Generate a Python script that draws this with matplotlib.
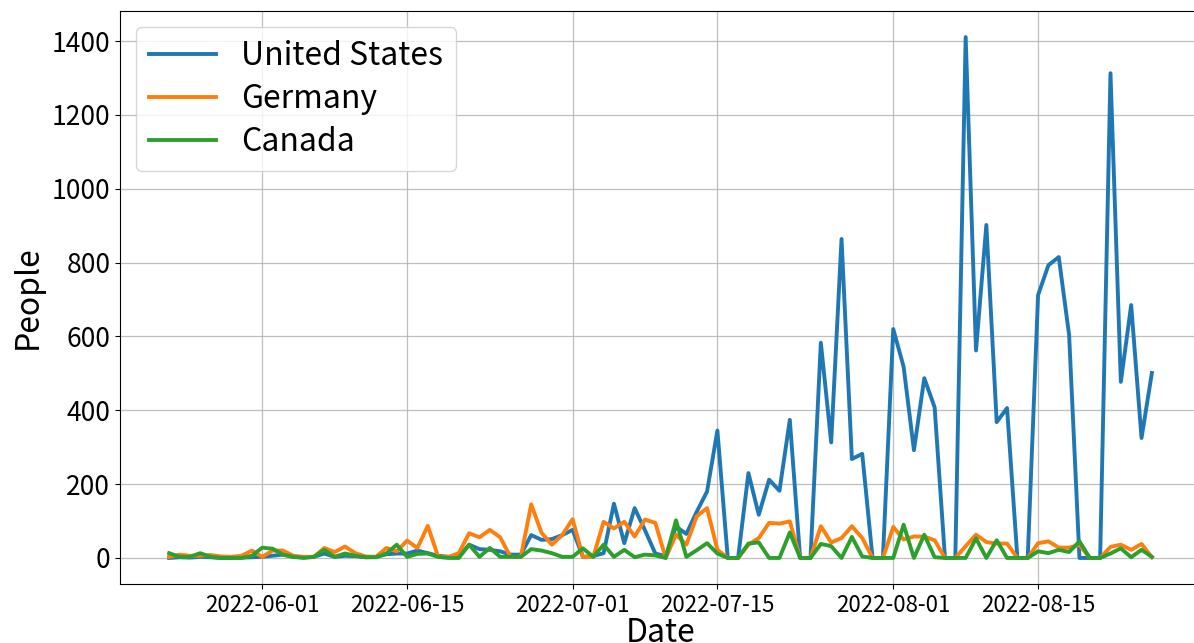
import matplotlib
matplotlib.use("Agg")
import matplotlib.pyplot as plt
import matplotlib.dates as mdates
import pandas as pd

plt.rcParams['font.family'] = ['Noto Sans CJK JP', 'DejaVu Sans']

dates = pd.date_range("2022-05-23", "2022-08-26", freq="D")

united_states = [
    0, 2, 1, 3, 2, 0, 0, 1, 2,
    3, 6, 9, 3, 2, 3, 12, 3, 6, 5, 2, 3, 10, 12,
    12, 20, 13, 6, 3, 3, 36, 24, 22, 18, 9, 9, 62, 49, 51, 62,
    76, 3, 5, 13, 147, 40, 135, 75, 12, 5, 85, 65, 125, 180, 345,
    0, 0, 230, 117, 212, 182, 374, 0, 0, 583, 313, 864, 268, 282, 0, 0,
    620, 518, 292, 487, 408, 0, 0, 1411, 562, 902, 368, 406, 0, 0,
    712, 793, 815, 604, 0, 0, 0, 1313, 477, 685, 325, 501,
]
germany = [
    3, 9, 6, 6, 8, 4, 3, 6, 20,
    3, 20, 20, 6, 3, 3, 27, 16, 31, 13, 4, 3, 27, 18,
    47, 27, 87, 4, 3, 13, 67, 56, 76, 56, 3, 3, 145, 68, 36, 62,
    105, 3, 3, 98, 80, 98, 58, 104, 95, 0, 63, 36, 113, 135, 22,
    0, 0, 36, 54, 95, 93, 99, 0, 0, 86, 42, 54, 86, 54, 0, 0,
    84, 50, 58, 58, 48, 0, 0, 32, 63, 43, 39, 39, 0, 0,
    40, 45, 28, 28, 35, 0, 0, 30, 36, 22, 38, 2,
]
canada = [
    13, 3, 3, 13, 3, 0, 0, 0, 6,
    28, 25, 9, 3, 0, 3, 22, 3, 12, 6, 2, 2, 12, 36,
    3, 11, 12, 3, 0, 0, 36, 3, 27, 3, 3, 3, 24, 20, 13, 3,
    3, 26, 3, 36, 3, 22, 2, 9, 7, 0, 102, 3, 21, 40, 12,
    0, 0, 39, 42, 0, 0, 69, 0, 0, 38, 32, 0, 57, 4, 0, 0,
    0, 90, 0, 63, 2, 0, 0, 0, 53, 0, 48, 0, 0, 0,
    18, 13, 22, 16, 45, 0, 0, 12, 26, 2, 22, 3,
]

series = [("United States", united_states),
          ("Germany", germany),
          ("Canada", canada)]

fig = plt.figure(figsize=(11.94, 6.43), dpi=100)
# the plotting area runs a little past the right edge of the canvas
ax = fig.add_axes([120 / 1194, 1 - 584 / 643, (1201 - 120) / 1194, (584 - 11) / 643])

for name, values in series:
    ax.plot(dates, values, label=name, linewidth=2.8)

ax.grid(True, color="#b0b0b0", linewidth=0.9, alpha=0.8)
ax.xaxis.set_major_locator(mdates.DayLocator(bymonthday=[1, 15]))
ax.xaxis.set_major_formatter(mdates.DateFormatter("%Y-%m-%d"))
ax.tick_params(axis="x", labelsize=16)
ax.tick_params(axis="y", labelsize=19)
ax.set_xlabel("Date", fontsize=23, labelpad=0)
ax.set_ylabel("People", fontsize=23, labelpad=6)
ax.legend(loc="upper left", fontsize=23, handlelength=2.1,
          labelspacing=0.35, borderaxespad=0.5)

fig.savefig("out.png", dpi=100)
